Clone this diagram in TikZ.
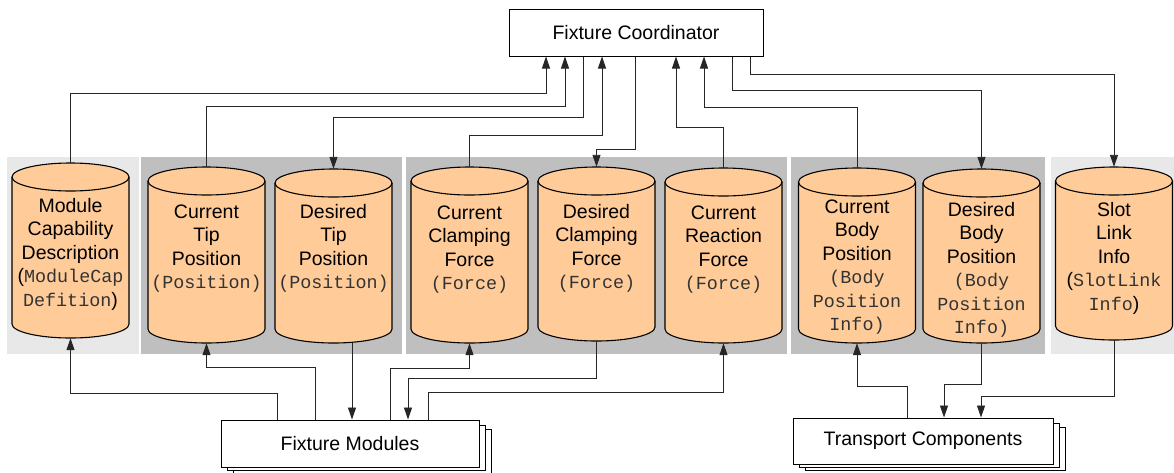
\documentclass[tikz,border=0pt]{standalone}
\usepackage{fontspec}
\setmainfont{Liberation Sans}
\newfontfamily\monof{Liberation Mono}
\usetikzlibrary{arrows.meta}
\definecolor{peach}{HTML}{FFCC99}
\definecolor{panelD}{HTML}{BFBFBF}
\definecolor{panelL}{HTML}{E8E8E8}
\newcommand\mtt[1]{{\monof\fontsize{18.4}{23.5}\selectfont\color{black!80}#1}}
\tikzset{
 conn/.style={line width=0.9pt, draw=black!85, -{Triangle[length=12pt,width=8pt]}},
 boxnode/.style={draw=black, line width=1pt, fill=white, inner sep=0pt, font=\fontsize{19.5}{23.5}\selectfont},
 cylbody/.style={fill=peach, draw=black, line width=1.1pt},
 cylanchor/.style={inner sep=0pt, minimum width=117pt},
 cyltext/.style={align=center, inner sep=0pt, font=\fontsize{19.5}{23.5}\selectfont, anchor=base}
}
% #5 = baseline of the last text line (pixels from top)
\newcommand\dbcyl[6]{%
 \filldraw[cylbody] ({#2-58.5},{-(#3+14)}) -- ({#2-58.5},{-(#4-14)}) arc[start angle=180,end angle=360,x radius=58.5,y radius=14] -- ({#2+58.5},{-(#3+14)}) arc[start angle=0,end angle=180,x radius=58.5,y radius=14] -- cycle;
 \draw[cylbody, fill=none] ({#2-58.5},{-(#3+14)}) arc[start angle=180,end angle=360,x radius=58.5,y radius=14];
 \node[cylanchor, minimum height={#4-#3}] (#1) at (#2,{-(#3+#4)/2}) {};
 \node[cyltext] (#1t) at (#2,-#5) {#6};
}
\begin{document}
\begin{tikzpicture}[x=1pt,y=1pt]
\useasboundingbox (0,0) rectangle (1174,-472);
% panels
\fill[panelL] (7,-157) rectangle (139,-354);
\fill[panelD] (141,-157) rectangle (402,-354);
\fill[panelD] (406,-157) rectangle (787,-354);
\fill[panelD] (791,-157) rectangle (1045,-354);
\fill[panelL] (1051,-157) rectangle (1174,-354);
% cylinders
\dbcyl{m1}{70.5}{163}{338}{306}{Module\\Capability\\Description\\(\mtt{ModuleCap}\\\mtt{Defition})}
\dbcyl{m2}{206.5}{167}{343}{288.5}{Current\\Tip\\Position\\\mtt{(Position)}}
\dbcyl{m3}{333.5}{169}{343}{288.5}{Desired\\Tip\\Position\\\mtt{(Position)}}
\dbcyl{m4}{469.5}{167}{343}{289.5}{Current\\Clamping\\Force\\\mtt{(Force)}}
\dbcyl{m5}{596.5}{167}{341}{288.5}{Desired\\Clamping\\Force\\\mtt{(Force)}}
\dbcyl{m6}{723.5}{168}{343}{289.5}{Current\\Reaction\\Force\\\mtt{(Force)}}
\dbcyl{m7}{857}{168}{343}{330.5}{Current\\Body\\Position\\\mtt{(Body}\\\mtt{Position}\\\mtt{Info)}}
\dbcyl{m8}{981.5}{169}{343}{333.5}{Desired\\Body\\Position\\\mtt{(Body}\\\mtt{Position}\\\mtt{Info)}}
\dbcyl{m9}{1114}{167}{340}{310}{Slot\\Link\\Info\\(\mtt{SlotLink}\\\mtt{Info})}
% boxes
\node[boxnode, minimum width=254pt, minimum height=47pt] (fc) at (636,-32.5) {Fixture Coordinator};
\node[boxnode, minimum width=258pt, minimum height=44pt] (fm3) at (362,-451) {};
\node[boxnode, minimum width=258pt, minimum height=45pt] (fm2) at (356,-447.5) {};
\node[boxnode, minimum width=258pt, minimum height=47pt] (fm) at (350,-443.5) {Fixture Modules};
\node[boxnode, minimum width=260pt, minimum height=43pt] (tc3) at (935,-448.5) {};
\node[boxnode, minimum width=260pt, minimum height=44pt] (tc2) at (929,-445) {};
\node[boxnode, minimum width=260pt, minimum height=46pt] (tc) at (923,-441) {Transport Components};
% connectors to / from coordinator
\draw[conn] (m1.north) |- (546,-93) -- (fc.south -| 546,0);
\draw[conn] (m2.north) |- (565,-106) -- (fc.south -| 565,0);
\draw[conn] (fc.south -| 583,0) |- (m3.north |- 0,-117) -- (m3.north);
\draw[conn] (m4.north) |- (602,-135) -- (fc.south -| 602,0);
\draw[conn] (fc.south -| 635,0) |- (m5.north |- 0,-149) -- (m5.north);
\draw[conn] (m6.north) |- (676,-127) -- (fc.south -| 676,0);
\draw[conn] (m7.north) |- (704,-107) -- (fc.south -| 704,0);
\draw[conn] (fc.south -| 732,0) |- (m8.north |- 0,-90) -- (m8.north);
\draw[conn] (fc.south -| 750,0) |- (m9.north |- 0,-74) -- (m9.north);
% connectors to / from modules
\draw[conn] (fm.north -| 277,0) |- (m1.south |- 0,-393) -- (m1.south);
\draw[conn] (fm.north -| 315,0) |- (m2.south |- 0,-367) -- (m2.south);
\draw[conn] (m3.south -| 352,0) -- (fm.north -| 352,0);
\draw[conn] (fm.north -| 390,0) |- (m4.south |- 0,-368) -- (m4.south);
\draw[conn] (m5.south) |- (408,-378) -- (fm.north -| 408,0);
\draw[conn] (fm.north -| 428,0) |- (m6.south |- 0,-392) -- (m6.south);
% connectors to / from transport
\draw[conn] (tc.north -| 907,0) |- (m7.south |- 0,-386) -- (m7.south);
\draw[conn] (m8.south) |- (944,-384) -- (tc.north -| 944,0);
\draw[conn] (m9.south) |- (981,-396) -- (tc.north -| 981,0);
\end{tikzpicture}
\end{document}
